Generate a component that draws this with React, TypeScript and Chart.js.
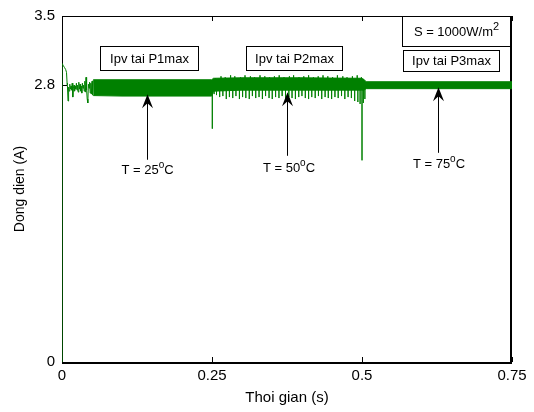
import React, { useEffect, useRef } from "react";
import { Chart, registerables } from "chart.js";

Chart.register(...registerables);

// ---------- data ----------
const xTicks = [0, 0.25, 0.5, 0.75];
const yTicks = [0, 2.8, 3.5];

// start-up transient
const startT = [0, 0.0001, 0.002, 0.004, 0.006, 0.0075, 0.0085];
const startI = [0, 3.02, 3.0, 2.98, 2.96, 2.93, 2.82];

// first noisy stretch
const seg1T = [0.009, 0.010, 0.011, 0.012, 0.013, 0.014, 0.015, 0.016, 0.017, 0.018, 0.019, 0.020, 0.021, 0.022, 0.023, 0.024, 0.025, 0.026, 0.027, 0.028, 0.029, 0.030, 0.031, 0.032, 0.033, 0.034, 0.035, 0.036, 0.037, 0.038, 0.039, 0.040, 0.041, 0.042, 0.043, 0.044, 0.045, 0.046, 0.047, 0.048, 0.049, 0.050, 0.051, 0.052];
const seg1I = [2.80, 2.64, 2.78, 2.74, 2.81, 2.76, 2.79, 2.75, 2.82, 2.68, 2.77, 2.80, 2.74, 2.79, 2.76, 2.82, 2.75, 2.80, 2.73, 2.83, 2.76, 2.81, 2.74, 2.79, 2.72, 2.82, 2.77, 2.80, 2.74, 2.84, 2.73, 2.88, 2.75, 2.66, 2.62, 2.81, 2.77, 2.83, 2.72, 2.82, 2.71, 2.84, 2.70, 2.85];

// ripple envelope (upper / lower)
const bandT = [0.052, 0.10, 0.15, 0.20, 0.2495, 0.2525, 0.30, 0.35, 0.40, 0.45, 0.499, 0.503, 0.507, 0.55, 0.60, 0.65, 0.70, 0.75];
const bandHi = [2.855, 2.855, 2.855, 2.855, 2.855, 2.87, 2.875, 2.875, 2.875, 2.872, 2.87, 2.86, 2.835, 2.835, 2.835, 2.835, 2.835, 2.835];
const bandLo = [2.695, 2.69, 2.69, 2.69, 2.69, 2.74, 2.75, 2.75, 2.75, 2.75, 2.75, 2.75, 2.765, 2.765, 2.765, 2.765, 2.765, 2.765];

// downward dips (second stretch + transitions)
const dipT = [0.2505, 0.2535, 0.2575, 0.2628, 0.2681, 0.2738, 0.2790, 0.2846, 0.2899, 0.2957, 0.3010, 0.3064, 0.3121, 0.3173, 0.3229, 0.3284, 0.3340, 0.3393, 0.3451, 0.3504, 0.3560, 0.3616, 0.3669, 0.3725, 0.3781, 0.3834, 0.3890, 0.3946, 0.3999, 0.4055, 0.4110, 0.4163, 0.4220, 0.4274, 0.4329, 0.4385, 0.4438, 0.4494, 0.4549, 0.4603, 0.4659, 0.4714, 0.4768, 0.4823, 0.4878, 0.4931, 0.4968, 0.5000, 0.5022, 0.5048];
const dipI = [2.36, 2.71, 2.70, 2.68, 2.69, 2.66, 2.68, 2.67, 2.69, 2.66, 2.68, 2.67, 2.66, 2.69, 2.67, 2.68, 2.66, 2.69, 2.67, 2.66, 2.68, 2.67, 2.69, 2.66, 2.68, 2.67, 2.66, 2.68, 2.69, 2.67, 2.66, 2.68, 2.67, 2.69, 2.66, 2.68, 2.67, 2.66, 2.68, 2.67, 2.69, 2.66, 2.68, 2.67, 2.64, 2.63, 2.61, 2.04, 2.62, 2.66];
const dipBase = 2.76;

// upward peaks (second stretch)
const peakT = [0.2560, 0.2650, 0.2720, 0.2810, 0.2880, 0.2975, 0.3050, 0.3140, 0.3210, 0.3300, 0.3380, 0.3460, 0.3540, 0.3620, 0.3700, 0.3790, 0.3860, 0.3950, 0.4030, 0.4110, 0.4190, 0.4270, 0.4350, 0.4430, 0.4510, 0.4590, 0.4680, 0.4750, 0.4840, 0.4920, 0.4990];
const peakI = [2.87, 2.89, 2.88, 2.90, 2.89, 2.88, 2.90, 2.89, 2.88, 2.90, 2.89, 2.88, 2.89, 2.90, 2.88, 2.89, 2.90, 2.88, 2.89, 2.90, 2.88, 2.89, 2.90, 2.89, 2.88, 2.90, 2.89, 2.88, 2.89, 2.90, 2.88];
const peakBase = 2.86;

// annotation texts
const boxTexts = ["Ipv tai P1max", "Ipv tai P2max", "Ipv tai P3max"];
const irradianceText = "S = 1000W/m";
const tempValues = ["25", "50", "75"];

// ---------- layout / styles ----------
const FONT = '"Liberation Sans", Arial, Helvetica, sans-serif';
const GREEN = "#008000";

type Part = { t: string; sup?: boolean };

const boxPlacement = [
  { x0: 0.0633, x1: 0.2267, y0: 3.199, y1: 2.958 },
  { x0: 0.3067, x1: 0.4667, y0: 3.199, y1: 2.958 },
  { x0: 0.5683, x1: 0.7283, y0: 3.159, y1: 2.948 },
];
const sBoxPlacement = { x0: 0.5667, x1: 0.7467, y0: 3.505, y1: 3.199 };
const arrowPlacement = [
  { x: 0.1417, tip: 2.708, tail: 2.046, lx: 0.1425, ly: 1.936 },
  { x: 0.3755, tip: 2.728, tail: 2.086, lx: 0.3783, ly: 1.956 },
  { x: 0.6272, tip: 2.778, tail: 2.116, lx: 0.6283, ly: 1.996 },
];

function drawRich(ctx: CanvasRenderingContext2D, parts: Part[], cx: number, cy: number, supSize: number, supRise: number) {
  const main = `13px ${FONT}`;
  const sup = `${supSize}px ${FONT}`;
  let w = 0;
  for (const p of parts) {
    ctx.font = p.sup ? sup : main;
    w += ctx.measureText(p.t).width;
  }
  let x = cx - w / 2;
  ctx.textBaseline = "middle";
  ctx.textAlign = "left";
  ctx.fillStyle = "#000";
  for (const p of parts) {
    ctx.font = p.sup ? sup : main;
    ctx.fillText(p.t, x, p.sup ? cy - supRise : cy);
    x += ctx.measureText(p.t).width;
  }
}

const framePlugin = {
  id: "matlabFrame",
  beforeDatasetsDraw(chart: any) {
    const { ctx, chartArea, scales } = chart;
    const left = Math.round(chartArea.left);
    const right = Math.round(chartArea.right);
    const top = Math.round(chartArea.top);
    const bottom = Math.round(chartArea.bottom);
    ctx.save();
    ctx.strokeStyle = "#000";
    ctx.lineWidth = 1;
    ctx.beginPath();
    ctx.moveTo(left + 0.5, bottom + 1);
    ctx.lineTo(left + 0.5, top + 0.5);
    ctx.lineTo(right, top + 0.5);
    ctx.stroke();
    ctx.lineWidth = 2;
    ctx.beginPath();
    ctx.moveTo(left, bottom + 1);
    ctx.lineTo(right, bottom + 1);
    ctx.moveTo(right - 1, top);
    ctx.lineTo(right - 1, bottom + 2);
    ctx.stroke();
    const tl = 5;
    ctx.lineWidth = 1;
    ctx.beginPath();
    for (const v of xTicks) {
      const px = Math.round(scales.x.getPixelForValue(v)) + 0.5;
      ctx.moveTo(px, bottom);
      ctx.lineTo(px, bottom - tl);
      ctx.moveTo(px, top);
      ctx.lineTo(px, top + tl);
    }
    for (const v of yTicks) {
      const py = Math.round(scales.y.getPixelForValue(v)) + 0.5;
      ctx.moveTo(left, py);
      ctx.lineTo(left + tl, py);
      ctx.moveTo(right, py);
      ctx.lineTo(right - tl, py);
    }
    ctx.stroke();
    ctx.restore();
  },
  afterDraw(chart: any) {
    const { ctx, scales } = chart;
    const X = (v: number) => scales.x.getPixelForValue(v);
    const Y = (v: number) => scales.y.getPixelForValue(v);
    ctx.save();
    const drawBox = (b: { x0: number; x1: number; y0: number; y1: number }, parts: Part[]) => {
      const x0 = Math.round(X(b.x0)) + 0.5;
      const x1 = Math.round(X(b.x1)) + 0.5;
      const y0 = Math.round(Y(b.y0)) + 0.5;
      const y1 = Math.round(Y(b.y1)) + 0.5;
      ctx.fillStyle = "#fff";
      ctx.fillRect(x0, y0, x1 - x0, y1 - y0);
      ctx.strokeStyle = "#000";
      ctx.lineWidth = 1;
      ctx.strokeRect(x0, y0, x1 - x0, y1 - y0);
      drawRich(ctx, parts, (x0 + x1) / 2, (y0 + y1) / 2 + 0.5, 11, 5);
    };
    boxTexts.forEach((t, i) => drawBox(boxPlacement[i], [{ t }]));
    drawBox(sBoxPlacement, [{ t: irradianceText }, { t: "2", sup: true }]);

    arrowPlacement.forEach((a, i) => {
      const x = Math.round(X(a.x)) + 0.5;
      const tipY = Y(a.tip);
      const tailY = Y(a.tail);
      ctx.strokeStyle = "#000";
      ctx.lineWidth = 1;
      ctx.beginPath();
      ctx.moveTo(x, tailY);
      ctx.lineTo(x, tipY + 8);
      ctx.stroke();
      ctx.fillStyle = "#000";
      ctx.beginPath();
      ctx.moveTo(x, tipY);
      ctx.lineTo(x - 5.5, tipY + 14);
      ctx.lineTo(x, tipY + 9);
      ctx.lineTo(x + 5.5, tipY + 14);
      ctx.closePath();
      ctx.fill();
      drawRich(ctx, [{ t: `T = ${tempValues[i]}` }, { t: "o", sup: true }, { t: "C" }], X(a.lx), Y(a.ly), 10, 5);
    });
    ctx.restore();
  },
};

function pts(t: number[], v: number[]) {
  return t.map((x, i) => ({ x, y: v[i] }));
}

export default function App() {
  const ref = useRef<HTMLCanvasElement | null>(null);
  useEffect(() => {
    document.body.style.margin = "0";
    const canvas = ref.current;
    if (!canvas) return;

    const mainPts = [...pts(startT, startI), ...pts(seg1T, seg1I)];
    const dipPts: { x: number; y: number }[] = [];
    dipT.forEach((t, i) => {
      dipPts.push({ x: t, y: dipBase }, { x: t, y: dipI[i] }, { x: t, y: dipBase });
    });
    const peakPts: { x: number; y: number }[] = [];
    peakT.forEach((t, i) => {
      peakPts.push({ x: t, y: peakBase }, { x: t, y: peakI[i] }, { x: t, y: peakBase });
    });

    const line = { borderColor: GREEN, borderWidth: 1, pointRadius: 0, tension: 0, fill: false };
    const tickFont = { family: FONT, size: 15 };
    const chart = new Chart(canvas, {
      type: "line",
      data: {
        datasets: [
          { ...line, data: pts(bandT, bandHi), order: 3 },
          { ...line, data: pts(bandT, bandLo), fill: "-1", backgroundColor: GREEN, order: 3 },
          { ...line, data: dipPts, order: 1 },
          { ...line, data: peakPts, order: 1 },
          { ...line, data: mainPts, order: 1 },
        ] as any,
      },
      options: {
        responsive: false,
        maintainAspectRatio: false,
        devicePixelRatio: 1,
        animation: false,
        events: [],
        layout: { padding: { left: 0, right: 22, top: 13, bottom: 0 } },
        plugins: {
          legend: { display: false },
          tooltip: { enabled: false },
          title: { display: false },
        },
        scales: {
          x: {
            type: "linear",
            min: 0,
            max: 0.75,
            afterBuildTicks: (s: any) => {
              s.ticks = xTicks.map((v) => ({ value: v }));
            },
            afterFit: (s: any) => {
              s.height = 50;
            },
            grid: { display: false, drawTicks: false },
            border: { display: false },
            ticks: {
              padding: 5,
              color: "#000",
              font: tickFont,
              maxRotation: 0,
              autoSkip: false,
              callback: (v: any) => String(v),
            },
            title: {
              display: true,
              text: "Thoi gian (s)",
              color: "#000",
              font: { family: FONT, size: 15 },
              padding: { top: 0, bottom: 5 },
            },
          },
          y: {
            type: "linear",
            min: 0,
            max: 3.5,
            afterBuildTicks: (s: any) => {
              s.ticks = yTicks.map((v) => ({ value: v }));
            },
            afterFit: (s: any) => {
              s.width = 62;
            },
            grid: { display: false, drawTicks: false },
            border: { display: false },
            ticks: {
              padding: 7,
              color: "#000",
              font: tickFont,
              autoSkip: false,
              callback: (v: any) => String(v),
            },
            title: {
              display: true,
              text: "Dong dien (A)",
              color: "#000",
              font: { family: FONT, size: 14 },
              padding: { top: 12, bottom: 0 },
            },
          },
        },
      } as any,
      plugins: [framePlugin],
    });
    return () => chart.destroy();
  }, []);

  return (
    <div style={{ position: "fixed", left: 0, top: 0, width: 534, height: 412 }}>
      <canvas ref={ref} width={534} height={412} style={{ display: "block", width: 534, height: 412 }} />
    </div>
  );
}
